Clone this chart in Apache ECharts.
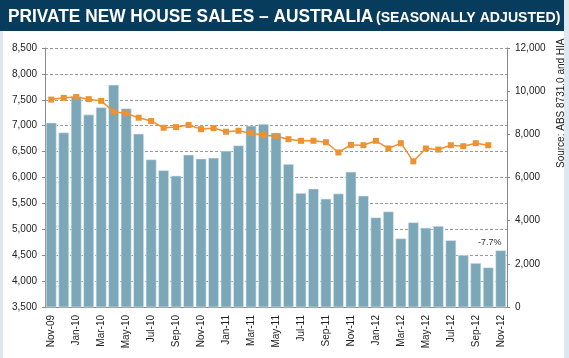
<!DOCTYPE html>
<html><head><meta charset="utf-8">
<script src="https://cdn.jsdelivr.net/npm/echarts@6/dist/echarts.min.js"></script>
<style>html,body{margin:0;padding:0;background:#fff}#c{width:569px;height:358px}</style>
</head><body><div id="c"></div>
<script>
const months = ['Nov-09','Dec-09','Jan-10','Feb-10','Mar-10','Apr-10','May-10','Jun-10','Jul-10','Aug-10','Sep-10','Oct-10','Nov-10','Dec-10','Jan-11','Feb-11','Mar-11','Apr-11','May-11','Jun-11','Jul-11','Aug-11','Sep-11','Oct-11','Nov-11','Dec-11','Jan-12','Feb-12','Mar-12','Apr-12','May-12','Jun-12','Jul-12','Aug-12','Sep-12','Oct-12','Nov-12'];
const sales = [7060,6870,7570,7215,7355,7790,7335,6845,6350,6140,6035,6440,6365,6380,6515,6620,7000,7035,6865,6260,5700,5785,5590,5690,6110,5650,5230,5345,4825,5135,5030,5065,4790,4505,4350,4265,4595];
const trend = [9610,9690,9730,9630,9550,9050,8970,8770,8615,8305,8335,8430,8240,8290,8120,8165,8055,7965,7915,7775,7700,7700,7635,7160,7510,7495,7700,7345,7590,6750,7345,7295,7495,7450,7590,7495,null];
const leftTicks = {min:3500, max:8500, step:500};
const rightTicks = {min:0, max:12000, step:2000};
const titleMain = 'PRIVATE NEW HOUSE SALES – AUSTRALIA';
const titleSub = '(SEASONALLY ADJUSTED)';
const sourceText = 'Source: ABS 8731.0 and HIA';
const changeLabel = '-7.7%';

const chart = echarts.init(document.getElementById('c'), null, {renderer:'canvas'});
const fmt = v => v.toLocaleString('en-US');
const FF = 'Liberation Sans, Arial';
const barData = sales.map((v,i)=> i===sales.length-1 ? {value:v, label:{show:true, position:'top', formatter:changeLabel, offset:[-11,2], fontSize:9, color:'#333', fontFamily:FF}} : v);
chart.setOption({
  animation:false,
  backgroundColor:'#dfe8ee',
  graphic:[
    {type:'rect', shape:{x:3,y:30,width:561,height:328}, style:{fill:'#fff'}, z:-10},
    {type:'rect', shape:{x:0,y:0,width:564,height:31}, style:{fill:'#083c5c'}, z:-5},
    {type:'text', x:8, y:7, scaleX:0.91, style:{text:titleMain, fontSize:19, fontWeight:'bold', fill:'#fff', fontFamily:FF}},
    {type:'text', x:376, y:10, scaleX:0.94, style:{text:titleSub, fontSize:15, fontWeight:'bold', fill:'#fff', fontFamily:FF}},
    {type:'text', x:556, y:168, rotation:Math.PI/2, style:{text:sourceText, fontSize:10, fill:'#222', fontFamily:FF}}
  ],
  grid:{left:45, right:62, top:48, bottom:51},
  xAxis:{type:'category', data:months, boundaryGap:true,
    axisLine:{lineStyle:{color:'#8a8a8a', width:1}},
    axisTick:{interval:1, length:3, lineStyle:{color:'#8a8a8a'}},
    axisLabel:{interval:1, rotate:90, fontSize:10, color:'#222', margin:8, fontFamily:FF}},
  yAxis:[
    {type:'value', min:leftTicks.min, max:leftTicks.max, interval:leftTicks.step,
      axisLine:{show:true, lineStyle:{color:'#8a8a8a'}}, axisTick:{show:true, length:3, lineStyle:{color:'#8a8a8a'}},
      axisLabel:{formatter:fmt, fontSize:10, color:'#222', margin:8, fontFamily:FF},
      splitLine:{show:true, lineStyle:{color:'#9a9a9a', type:[3,2], width:1}}},
    {type:'value', min:rightTicks.min, max:rightTicks.max, interval:rightTicks.step, position:'right',
      axisLine:{show:true, lineStyle:{color:'#8a8a8a'}}, axisTick:{show:true, length:3, lineStyle:{color:'#8a8a8a'}},
      axisLabel:{formatter:fmt, fontSize:10, color:'#222', margin:8, fontFamily:FF},
      splitLine:{show:false}}
  ],
  series:[
    {type:'bar', data:barData, yAxisIndex:0, barCategoryGap:'14%',
      itemStyle:{color:'#7ba7b8', borderColor:'#e3eef2', borderWidth:0.6}},
    {type:'line', data:trend, yAxisIndex:1, symbol:'rect', symbolSize:6, connectNulls:false,
      lineStyle:{color:'#f0912f', width:1.5}, itemStyle:{color:'#f0912f'}}
  ]
});
</script></body></html>
